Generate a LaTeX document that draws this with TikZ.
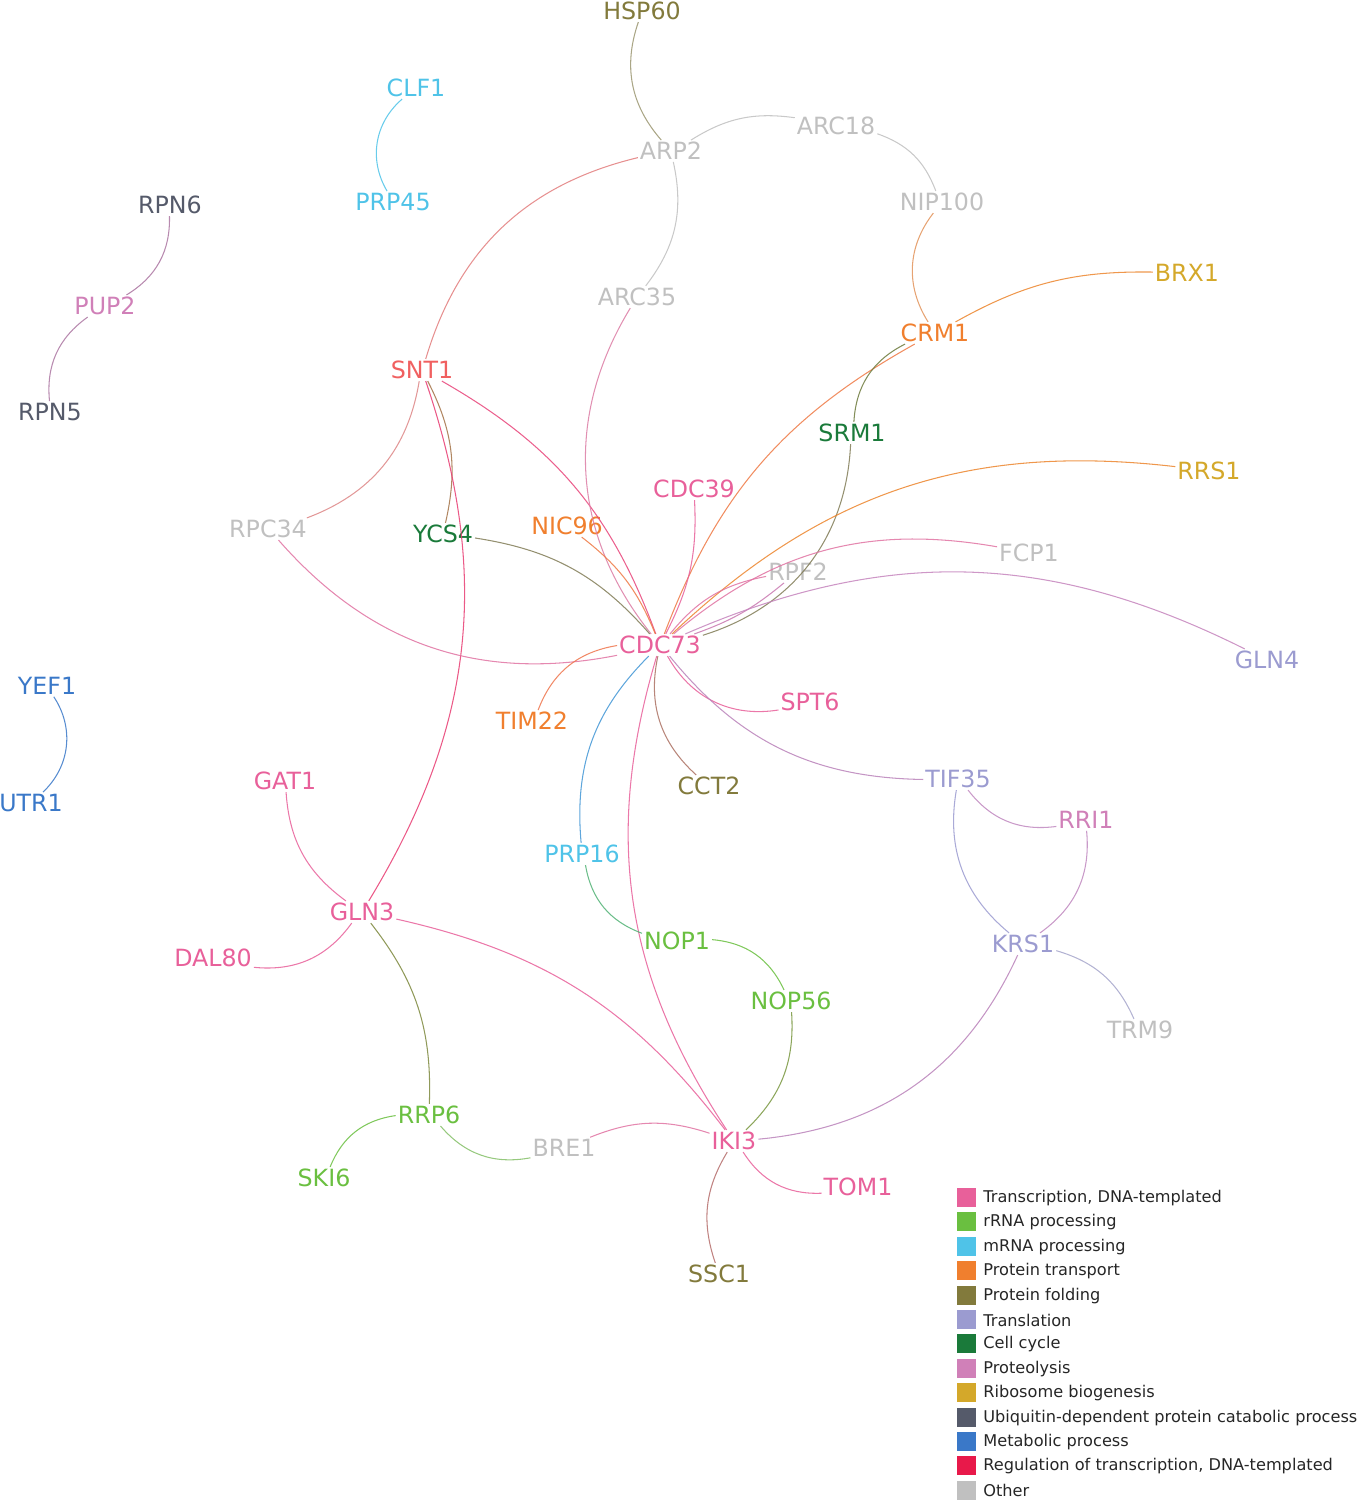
\documentclass[tikz,border=0pt]{standalone}
\usepackage{fontspec}
\setmainfont{DejaVu Sans}
\begin{document}
\begin{tikzpicture}[x=0.02cm,y=-0.02cm,
  lbl/.style={inner sep=1pt,font=\fontsize{13.5}{14}\selectfont},
  e/.style={line width=0.6pt,opacity=0.85},
  leg/.style={anchor=west,inner sep=0pt,font=\fontsize{9.2}{10}\selectfont,text=black!85}]
\definecolor{ctr}{HTML}{E8609A}
\definecolor{crr}{HTML}{6ABF40}
\definecolor{cmr}{HTML}{4FC3E8}
\definecolor{cpt}{HTML}{F07F2E}
\definecolor{cpf}{HTML}{827A3C}
\definecolor{ctl}{HTML}{9B9BD0}
\definecolor{ccc}{HTML}{1A7A3A}
\definecolor{cpr}{HTML}{D080B8}
\definecolor{crb}{HTML}{D4A82A}
\definecolor{cub}{HTML}{555A6A}
\definecolor{cmp}{HTML}{3A78C8}
\definecolor{crg}{HTML}{E8194A}
\definecolor{cot}{HTML}{C0C0C0}
\definecolor{csn}{HTML}{F06060}
\useasboundingbox (0,0) rectangle (1358,1501);
% nodes
\node[lbl,text=cpf] (HSP60) at (642,11) {HSP60};
\node[lbl,text=cmr] (CLF1) at (416,88) {CLF1};
\node[lbl,text=cot] (ARC18) at (836,126) {ARC18};
\node[lbl,text=cot] (ARP2) at (671,151) {ARP2};
\node[lbl,text=cmr] (PRP45) at (393,202) {PRP45};
\node[lbl,text=cot] (NIP100) at (942,202) {NIP100};
\node[lbl,text=cub] (RPN6) at (170,205) {RPN6};
\node[lbl,text=crb] (BRX1) at (1187,273) {BRX1};
\node[lbl,text=cot] (ARC35) at (637,297) {ARC35};
\node[lbl,text=cpr] (PUP2) at (105,306) {PUP2};
\node[lbl,text=cpt] (CRM1) at (935,333) {CRM1};
\node[lbl,text=csn] (SNT1) at (422,370) {SNT1};
\node[lbl,text=cub] (RPN5) at (50,412) {RPN5};
\node[lbl,text=ccc] (SRM1) at (852,433) {SRM1};
\node[lbl,text=crb] (RRS1) at (1209,471) {RRS1};
\node[lbl,text=ctr] (CDC39) at (694,489) {CDC39};
\node[lbl,text=cpt] (NIC96) at (567,526) {NIC96};
\node[lbl,text=cot] (RPC34) at (268,529) {RPC34};
\node[lbl,text=ccc] (YCS4) at (443,534) {YCS4};
\node[lbl,text=cot] (FCP1) at (1029,553) {FCP1};
\node[lbl,text=cot] (RPF2) at (798,572) {RPF2};
\node[lbl,text=ctr] (CDC73) at (660,645) {CDC73};
\node[lbl,text=ctl] (GLN4) at (1267,660) {GLN4};
\node[lbl,text=cmp] (YEF1) at (47,686) {YEF1};
\node[lbl,text=ctr] (SPT6) at (810,702) {SPT6};
\node[lbl,text=cpt] (TIM22) at (532,721) {TIM22};
\node[lbl,text=ctl] (TIF35) at (958,779) {TIF35};
\node[lbl,text=ctr] (GAT1) at (285,781) {GAT1};
\node[lbl,text=cpf] (CCT2) at (709,786) {CCT2};
\node[lbl,text=cmp] (UTR1) at (31,803) {UTR1};
\node[lbl,text=cpr] (RRI1) at (1086,820) {RRI1};
\node[lbl,text=cmr] (PRP16) at (582,854) {PRP16};
\node[lbl,text=ctr] (GLN3) at (362,912) {GLN3};
\node[lbl,text=crr] (NOP1) at (677,941) {NOP1};
\node[lbl,text=ctl] (KRS1) at (1023,944) {KRS1};
\node[lbl,text=ctr] (DAL80) at (213,958) {DAL80};
\node[lbl,text=crr] (NOP56) at (791,1001) {NOP56};
\node[lbl,text=cot] (TRM9) at (1140,1030) {TRM9};
\node[lbl,text=crr] (RRP6) at (429,1115) {RRP6};
\node[lbl,text=cot] (BRE1) at (564,1148) {BRE1};
\node[lbl,text=ctr] (IKI3) at (734,1141) {IKI3};
\node[lbl,text=crr] (SKI6) at (324,1178) {SKI6};
\node[lbl,text=ctr] (TOM1) at (858,1187) {TOM1};
\node[lbl,text=cpf] (SSC1) at (719,1274) {SSC1};
% edges
\draw[e,cpf!60!cot] (HSP60) to[bend right=30] (ARP2);
\draw[e,cot] (ARP2) to[bend left=20] (ARC18);
\draw[e,cot] (ARC18) to[bend left=25] (NIP100);
\draw[e,cot] (ARP2) to[bend left=25] (ARC35);
\draw[e,cpt!70!cot] (NIP100) to[bend right=35] (CRM1);
\draw[e,cpt!85!crb] (CRM1) to[bend left=15] (BRX1);
\draw[e,cmr] (CLF1) to[bend right=40] (PRP45);
\draw[e,cpr!70!cub] (RPN6) to[bend left=30] (PUP2);
\draw[e,cpr!70!cub] (PUP2) to[bend right=30] (RPN5);
\draw[e,cmp] (YEF1) to[bend left=40] (UTR1);
\draw[e,csn!70!cot] (ARP2) to[bend right=30] (SNT1);
\draw[e,csn!60!cot] (SNT1) to[bend left=30] (RPC34);
\draw[e,cpf!70!csn] (SNT1) to[bend left=20] (YCS4);
\draw[e,crg!50!ctr] (SNT1) to[bend left=25] (GLN3);
\draw[e,crg!40!ctr] (SNT1) to[bend left=20] (CDC73);
\draw[e,ctr!70!cot] (ARC35) to[bend right=35] (CDC73);
\draw[e,cpt!80!ctr] (CRM1) to[bend right=20] (CDC73);
\draw[e,cpf!80!ccc] (CRM1) to[bend right=30] (SRM1);
\draw[e,cpf!60!gray] (SRM1) to[bend left=35] (CDC73);
\draw[e,cpt!85!crb] (RRS1) to[bend right=25] (CDC73);
\draw[e,ctr] (CDC39) to[bend left=15] (CDC73);
\draw[e,cpt!80!ctr] (NIC96) to[bend left=15] (CDC73);
\draw[e,cpf!60!gray] (YCS4) to[bend left=20] (CDC73);
\draw[e,ctr!80!cot] (RPC34) to[bend right=30] (CDC73);
\draw[e,ctr!80!cot] (FCP1) to[bend right=25] (CDC73);
\draw[e,ctr!80!cot] (CDC73) to[bend left=20] (RPF2);
\draw[e,ctr!60!ctl] (CDC73) to[bend right=10] (RPF2);
\draw[e,cpr!80!ctl] (GLN4) to[bend right=25] (CDC73);
\draw[e,cpt!70!ctr] (CDC73) to[bend right=30] (TIM22);
\draw[e,ctr] (CDC73) to[bend right=35] (SPT6);
\draw[e,cpf!60!ctr] (CDC73) to[bend right=30] (CCT2);
\draw[e,ctr!40!ctl] (CDC73) to[bend right=25] (TIF35);
\draw[e,cmp!60!cmr] (CDC73) to[bend right=25] (PRP16);
\draw[e,ctr] (CDC73) to[bend right=25] (IKI3);
\draw[e,cpr!70!ctl] (TIF35) to[bend right=30] (RRI1);
\draw[e,ctl] (TIF35) to[bend right=30] (KRS1);
\draw[e,cpr!70!ctl] (RRI1) to[bend left=30] (KRS1);
\draw[e,ctl!70!cot] (KRS1) to[bend left=25] (TRM9);
\draw[e,ctr!40!ctl] (KRS1) to[bend left=30] (IKI3);
\draw[e,ctr] (GAT1) to[bend right=25] (GLN3);
\draw[e,ctr] (GLN3) to[bend left=30] (DAL80);
\draw[e,ctr] (GLN3) to[bend left=20] (IKI3);
\draw[e,cpf!80!crr] (GLN3) to[bend left=20] (RRP6);
\draw[e,crr!60!cmr!80!ccc] (PRP16) to[bend right=30] (NOP1);
\draw[e,crr] (NOP1) to[bend left=30] (NOP56);
\draw[e,cpf!60!crr] (NOP56) to[bend left=25] (IKI3);
\draw[e,crr] (RRP6) to[bend right=30] (SKI6);
\draw[e,crr!70!cot] (RRP6) to[bend right=30] (BRE1);
\draw[e,ctr!80!cot] (BRE1) to[bend left=20] (IKI3);
\draw[e,ctr] (IKI3) to[bend right=30] (TOM1);
\draw[e,cpf!50!ctr] (IKI3) to[bend right=25] (SSC1);
% legend
\foreach \c/\t [count=\i from 0] in {ctr/{Transcription, DNA-templated},crr/{rRNA processing},cmr/{mRNA processing},cpt/{Protein transport},cpf/{Protein folding},ctl/{Translation},ccc/{Cell cycle},cpr/{Proteolysis},crb/{Ribosome biogenesis},cub/{Ubiquitin-dependent protein catabolic process},cmp/{Metabolic process},crg/{Regulation of transcription, DNA-templated},cot/{Other}}{
  \fill[\c] (957,{1188+24.4*\i}) rectangle (976,{1207+24.4*\i});
  \node[leg] (L\i) at (983,{1198+24.4*\i}) {\t};
}
\end{tikzpicture}
\end{document}
